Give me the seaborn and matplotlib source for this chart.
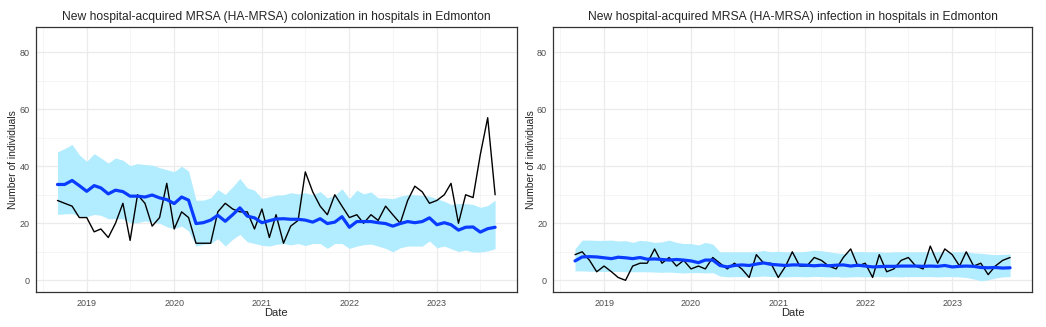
import numpy as np
import pandas as pd
import matplotlib
matplotlib.use("Agg")
import matplotlib.pyplot as plt
import matplotlib.dates as mdates
import seaborn as sns

sns.set_style("white")
plt.rcParams['font.family'] = ['Liberation Sans', 'DejaVu Sans']

# monthly series, Sep 2018 - Sep 2023
dates = pd.date_range("2018-09-01", "2023-09-01", freq="MS")

colon_obs = [28, 27, 26, 22, 22, 17, 18, 15, 20, 27, 14, 30, 27, 19, 22, 34, 18, 24, 22, 13,
             13, 13, 24, 27, 25, 24, 24, 18, 25, 15, 23, 13, 19, 21, 38, 31, 26, 23, 30, 26,
             22, 23, 20, 23, 21, 26, 23, 20, 28, 33, 31, 27, 28, 30, 34, 20, 30, 29, 44, 57, 30]
colon_fit = [33.6, 33.6, 35.0, 33.2, 31.2, 33.2, 32.4, 30.3, 31.6, 31.1, 29.5, 29.5, 29.2, 29.9,
             28.9, 28.3, 26.9, 29.2, 28.1, 19.9, 20.2, 21.1, 22.8, 20.7, 23.0, 25.4, 22.5, 21.9,
             20.2, 20.9, 21.5, 21.6, 21.4, 21.4, 21.1, 20.4, 21.6, 19.9, 20.4, 22.3, 18.6, 20.6,
             20.6, 20.6, 20.2, 19.9, 19.0, 19.9, 20.6, 20.2, 20.6, 21.9, 19.5, 20.2, 19.5, 17.6,
             18.6, 18.7, 16.9, 18.1, 18.6]
colon_hi = [45.0, 46.2, 47.6, 44.0, 41.7, 44.4, 42.9, 41.1, 42.9, 42.1, 40.2, 40.9, 40.6, 40.4,
            39.5, 38.8, 38.1, 40.0, 38.3, 28.1, 28.1, 28.9, 31.8, 30.1, 32.8, 35.7, 32.4, 31.6,
            28.7, 29.3, 29.8, 30.0, 30.7, 30.3, 30.7, 30.0, 31.1, 28.9, 29.8, 32.1, 28.6, 31.6,
            30.3, 31.0, 28.9, 28.9, 28.6, 29.5, 30.0, 30.0, 29.8, 29.5, 28.6, 27.7, 26.6, 26.9,
            26.9, 26.6, 25.6, 26.2, 28.1]
colon_lo = [23.1, 23.3, 23.4, 22.5, 22.3, 23.1, 22.8, 21.6, 21.6, 21.6, 20.2, 20.2, 20.8, 20.4,
            20.0, 18.8, 18.1, 19.0, 17.3, 12.0, 12.6, 12.9, 14.6, 12.0, 14.4, 16.1, 13.5, 12.9,
            12.3, 12.0, 12.6, 12.9, 12.4, 12.9, 12.2, 12.9, 12.9, 11.2, 12.9, 12.9, 11.2, 12.0,
            12.5, 12.7, 12.0, 11.2, 10.0, 11.4, 12.0, 12.0, 12.0, 13.8, 11.4, 12.0, 11.1, 10.1,
            10.6, 9.9, 9.9, 10.3, 11.1]

infec_obs = [9, 10, 7, 3, 5, 3, 1, 0, 5, 6, 6, 11, 6, 8, 5, 7, 4, 5, 4, 8,
             6, 4, 6, 4, 1, 9, 6, 6, 1, 5, 10, 5, 5, 8, 7, 5, 4, 8, 11, 5,
             6, 1, 9, 3, 4, 7, 8, 5, 4, 12, 6, 11, 9, 5, 10, 5, 6, 2, 5, 7, 8]
infec_fit = [6.8, 8.2, 8.3, 8.2, 7.9, 7.6, 8.1, 7.9, 7.6, 8.0, 7.4, 7.5, 7.3, 7.1, 7.3, 7.1,
             6.8, 6.2, 7.1, 7.1, 5.2, 4.7, 5.2, 5.4, 5.2, 5.7, 6.1, 5.6, 5.4, 5.2, 5.4, 5.4,
             5.3, 5.1, 5.3, 5.1, 5.3, 5.4, 5.0, 5.3, 5.0, 4.7, 4.8, 4.9, 4.9, 5.0, 5.0, 5.0,
             4.9, 5.0, 4.9, 5.2, 4.7, 4.9, 5.0, 4.9, 4.5, 4.4, 4.5, 4.3, 4.4]
infec_hi = [11.1, 14.1, 14.1, 14.0, 14.0, 14.1, 13.8, 13.9, 13.3, 14.0, 13.8, 13.3, 13.5, 14.1,
            13.3, 12.9, 12.9, 12.4, 13.3, 12.7, 10.0, 10.0, 10.0, 10.0, 10.0, 10.0, 10.5, 10.0,
            10.2, 10.0, 10.0, 10.0, 10.2, 10.6, 10.4, 10.0, 9.6, 9.4, 10.0, 10.1, 10.0, 10.0,
            10.0, 9.8, 10.0, 10.0, 10.0, 10.0, 10.0, 10.0, 10.0, 10.0, 10.0, 10.0, 10.0, 9.6,
            9.5, 9.2, 9.0, 9.1, 9.2]
infec_lo = [3.3, 3.3, 3.2, 3.2, 3.1, 3.1, 3.1, 3.0, 3.0, 3.0, 3.0, 2.9, 2.8, 2.9, 2.7, 2.6,
            2.7, 2.7, 2.6, 2.7, 1.5, 1.2, 1.3, 1.3, 1.2, 1.3, 1.5, 1.3, 1.2, 1.2, 1.3, 1.3,
            1.2, 1.4, 1.3, 1.2, 1.3, 1.1, 1.2, 1.3, 1.2, 1.3, 1.3, 1.2, 1.3, 1.2, 1.3, 1.3,
            1.3, 1.3, 1.2, 1.3, 1.3, 1.2, 1.0, 0.5, -0.2, 0.2, 0.8, 1.2, 1.3]

titles = ["New hospital-acquired MRSA (HA-MRSA) colonization in hospitals in Edmonton",
          "New hospital-acquired MRSA (HA-MRSA) infection in hospitals in Edmonton"]

panels = [
    pd.DataFrame({"date": dates, "obs": colon_obs, "fit": colon_fit, "lo": colon_lo, "hi": colon_hi}),
    pd.DataFrame({"date": dates, "obs": infec_obs, "fit": infec_fit, "lo": infec_lo, "hi": infec_hi}),
]

fig = plt.figure(figsize=(10.46, 3.27), dpi=100)
boxes = [[0.0341, 0.1061, 0.4601, 0.8122], [0.529, 0.1061, 0.4574, 0.8122]]

pad = pd.Timedelta(days=91)
for df, title, box in zip(panels, titles, boxes):
    ax = fig.add_axes(box)
    ax.fill_between(df["date"], df["lo"], df["hi"], color="#b2ecff", lw=0, zorder=1)
    sns.lineplot(data=df, x="date", y="obs", color="black", lw=1.0, ax=ax, zorder=2)
    sns.lineplot(data=df, x="date", y="fit", color="#0a3cff", lw=2.3, ax=ax, zorder=3)

    ax.set_xlim(dates[0] - pad, dates[-1] + pad)
    ax.set_ylim(-4.2, 88.9)
    ax.set_yticks([0, 20, 40, 60, 80])
    ax.set_yticks([10, 30, 50, 70], minor=True)
    ax.xaxis.set_major_locator(mdates.YearLocator())
    ax.xaxis.set_major_formatter(mdates.DateFormatter("%Y"))
    ax.xaxis.set_minor_locator(mdates.MonthLocator(bymonth=7))
    ax.grid(which="major", color="#ebebeb", lw=0.9)
    ax.grid(which="minor", color="#f2f2f2", lw=0.5)
    ax.set_axisbelow(True)
    for s in ax.spines.values():
        s.set_color("#333333")
        s.set_linewidth(0.9)
    ax.tick_params(which="major", length=3, width=0.8, color="#333333",
                   labelsize=6.5, labelcolor="#4d4d4d", pad=1.5)
    ax.tick_params(which="minor", length=0)
    ax.set_xlabel("Date", fontsize=8, labelpad=0.5)
    ax.set_ylabel("Number of individuals", fontsize=7.4, labelpad=1)
    ax.set_title(title, fontsize=8.75, pad=5)

fig.savefig("out.png", dpi=100)
